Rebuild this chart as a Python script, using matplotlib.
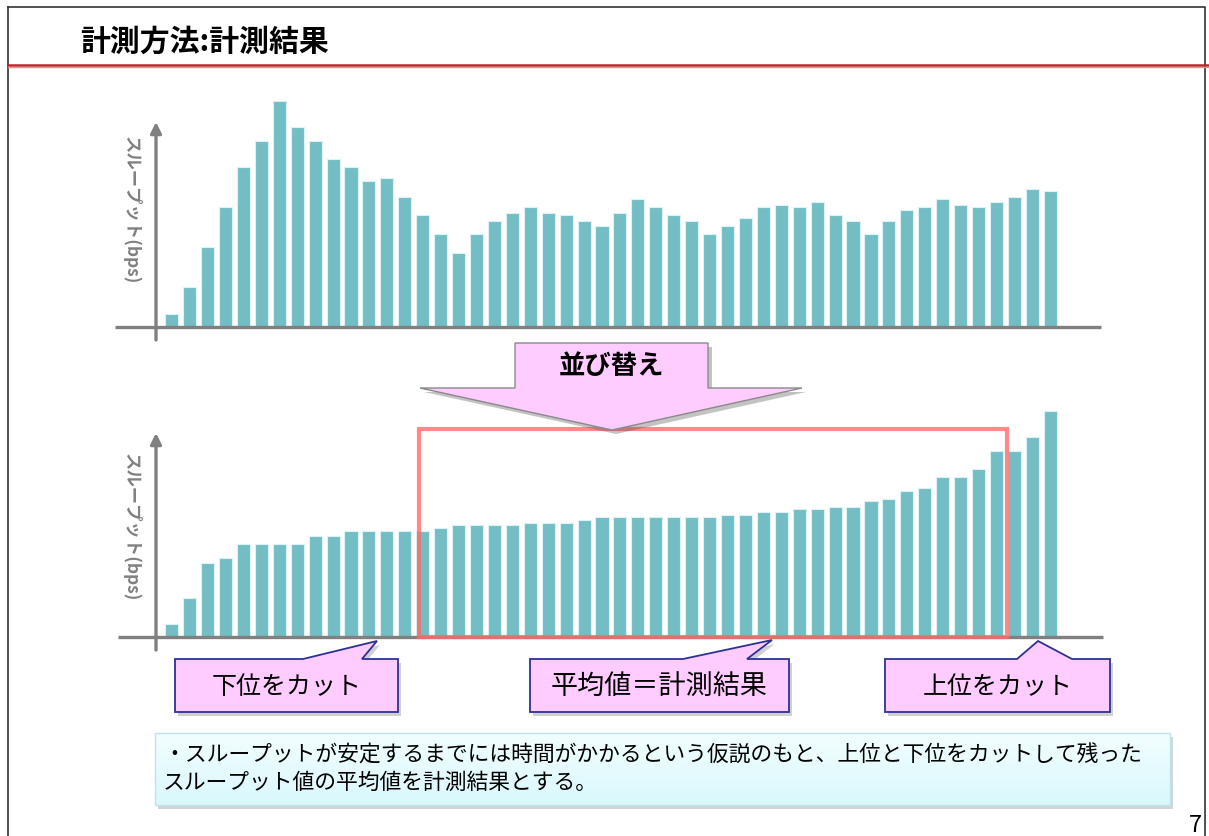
import numpy as np
import matplotlib
matplotlib.use("Agg")
import matplotlib.pyplot as plt
from matplotlib.patches import Polygon, Rectangle

plt.rcParams['font.family'] = ['Noto Sans CJK JP', 'DejaVu Sans']

# 計測データ (スループット, 任意単位)
throughput_raw = [13, 40, 80, 120, 160, 186, 226, 200, 186, 168,
                  160, 146, 149, 130, 112, 93, 74, 93, 106, 114,
                  120, 114, 112, 106, 101, 114, 128, 120, 112, 106,
                  93, 101, 109, 120, 122, 120, 125, 112, 106, 93,
                  106, 117, 120, 128, 122, 120, 125, 130, 138, 136]
# 並び替え後
throughput_sorted = [13, 39, 74, 79, 93, 93, 93, 93, 101, 101,
                     106, 106, 106, 106, 106, 109, 112, 112, 112, 112,
                     114, 114, 114, 117, 120, 120, 120, 120, 120, 120,
                     120, 122, 122, 125, 125, 128, 128, 130, 130, 136,
                     138, 146, 149, 160, 160, 168, 186, 186, 200, 226]
y_label = 'スループット(bps)'
title = '計測方法:計測結果'
sort_label = '並び替え'
callouts = ['下位をカット', '平均値＝計測結果', '上位をカット']
note = ('・スループットが安定するまでには時間がかかるという仮説のもと、上位と下位をカットして残った\n'
        'スループット値の平均値を計測結果とする。')

W, H = 1209, 836
BAR = '#72BEC4'
GRAY = '#808080'
PINK = '#FFCCFF'
NAVY = '#2E3192'

fig = plt.figure(figsize=(W / 100, H / 100), dpi=100)
fig.patch.set_facecolor('white')

x0, pitch = 171.7, 17.93  # 1本目の中心と間隔 (px)


def px_axes(left, right, top, bottom):
    return fig.add_axes([left / W, 1 - bottom / H, (right - left) / W, (bottom - top) / H])


def bar_chart(values, top, base, ax_top, ax_bottom, h_from, h_to):
    ax = px_axes(100, 1110, top, ax_bottom)
    ax.set_xlim((100 - x0) / pitch, (1110 - x0) / pitch)
    ax.set_ylim(base - ax_bottom, base - top)
    ax.axis('off')
    idx = np.arange(len(values))
    ax.bar(idx, values, width=0.73, color=BAR, edgecolor='#DDF2F3', linewidth=0.8, zorder=2)
    # 軸
    ax.plot([(h_from - x0) / pitch, (h_to - x0) / pitch], [0, 0], color=GRAY, lw=2.4,
            solid_capstyle='butt', zorder=3)
    xv = (156 - x0) / pitch
    ax.annotate('', xy=(xv, base - ax_top), xytext=(xv, -13),
                arrowprops=dict(arrowstyle='-|>', color=GRAY, lw=2.4, mutation_scale=16,
                                shrinkA=0, shrinkB=0), zorder=3)
    return ax


ax1 = bar_chart(throughput_raw, 90, 327, 122, 345, 115, 1101)
ax2 = bar_chart(throughput_sorted, 400, 637, 433, 655, 118, 1103)

# 平均値の範囲 (赤枠)
rx0 = (419 - x0) / pitch
rx1 = (1007 - x0) / pitch
ax2.plot([rx0, rx0, rx1, rx1, rx0], [0, 637 - 429, 637 - 429, 0, 0], color='#FF6B6B',
         lw=3, alpha=0.8, zorder=4, solid_joinstyle='miter')

# 重ね描き用 (px座標)
ov = fig.add_axes([0, 0, 1, 1])
ov.set_xlim(0, W)
ov.set_ylim(H, 0)
ov.axis('off')
ov.patch.set_alpha(0)

# 枠とタイトル
ov.plot([8, 1205, 1205], [7, 7, 840], color='#333333', lw=1.2)
ov.plot([8, 8], [7, 840], color='#333333', lw=1.2)
ov.plot([8, W], [64.5, 64.5], color='#C8202A', lw=1.8)
ov.plot([8, W], [67, 67], color='#E89090', lw=1.0)
ov.text(80, 42, title, fontsize=21.5, fontweight='bold', va='center', ha='left')
ov.text(1195, 826, '7', fontsize=17, ha='center', va='center')

# 軸ラベル
for cy in (210, 527):
    ov.text(131, cy, y_label, rotation=-90, fontsize=12.5, fontweight='bold', color=GRAY,
            ha='center', va='center')

# 並び替え 矢印
arrow = [(515, 343), (708, 343), (708, 388), (802, 388), (612, 430),
         (420, 388), (515, 388)]
ov.add_patch(Polygon([(x + 4, y + 4) for x, y in arrow], closed=True, facecolor='#555555',
                     alpha=0.35, edgecolor='none'))
ov.add_patch(Polygon(arrow, closed=True, facecolor=PINK, edgecolor='#8A8A8A', lw=1.0))
ov.text(611, 367, sort_label, fontsize=19, fontweight='bold', ha='center', va='center')

# 吹き出し
boxes = [
    (175, 398, 659, 712, 303, 362, (377, 641), 18),
    (530, 789, 659, 712, 683, 747, (772, 640), 19.5),
    (885, 1110, 659, 712, 1017, 1072, (1038, 641), 18),
]
for (l, r, t, b, p0, p1, tip, fs), label in zip(boxes, callouts):
    poly = [(l, t), (p0, t), tip, (p1, t), (r, t), (r, b), (l, b)]
    ov.add_patch(Polygon([(x + 3, y + 4) for x, y in poly], closed=True, facecolor='#666666',
                         alpha=0.3, edgecolor='none'))
    ov.add_patch(Polygon(poly, closed=True, facecolor=PINK, edgecolor=NAVY, lw=1.3))
    ov.text((l + r) / 2, (t + b) / 2 + 1, label, fontsize=fs, ha='center', va='center')

# 説明ボックス
ov.add_patch(Rectangle((158, 737), 1015, 72, facecolor='#777777', alpha=0.3, edgecolor='none'))
grad = np.linspace(0, 1, 64)[:, None]
cmap = matplotlib.colors.LinearSegmentedColormap.from_list('g', ['#F2FEFF', '#DAF8FC'])
ov.imshow(grad, extent=(155, 1170, 805, 733), cmap=cmap, aspect='auto', zorder=2)
ov.add_patch(Rectangle((155, 733), 1015, 72, facecolor='none', edgecolor='#BFE3EA', lw=1.0,
                       zorder=3))
ov.text(163, 769, note, fontsize=15.7, ha='left', va='center', linespacing=1.3, zorder=4)
ov.set_xlim(0, W)
ov.set_ylim(H, 0)

fig.savefig('out.png', dpi=100)
